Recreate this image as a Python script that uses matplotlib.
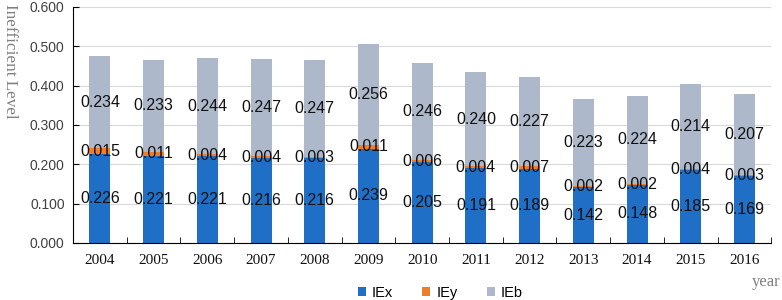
import numpy as np
import matplotlib.pyplot as plt

years = ['2004', '2005', '2006', '2007', '2008', '2009', '2010',
         '2011', '2012', '2013', '2014', '2015', '2016']
iex = [0.226, 0.221, 0.221, 0.216, 0.216, 0.239, 0.205, 0.191, 0.189, 0.142, 0.148, 0.185, 0.169]
iey = [0.015, 0.011, 0.004, 0.004, 0.003, 0.011, 0.006, 0.004, 0.007, 0.002, 0.002, 0.004, 0.003]
ieb = [0.234, 0.233, 0.244, 0.247, 0.247, 0.256, 0.246, 0.240, 0.227, 0.223, 0.224, 0.214, 0.207]

colors = ['#1F6FC6', '#F07D28', '#ADB9CA']
sans = 'Liberation Sans'
serif = 'Liberation Serif'

fig = plt.figure(figsize=(7.82, 3.0), dpi=100)
ax = fig.add_axes([0.0934, 0.19, 0.893, 0.787])

x = np.arange(len(years))
w = 0.39
bottom = np.zeros(len(years))
for vals, c, name in zip([iex, iey, ieb], colors, ['IEx', 'IEy', 'IEb']):
    vals = np.array(vals)
    ax.bar(x, vals, w, bottom=bottom, color=c, label=name, zorder=2)
    for xi, b, v in zip(x, bottom, vals):
        ax.text(xi, b + v / 2, f'{v:.3f}', ha='center', va='center',
                fontsize=11.5, family=sans, color='#111111', zorder=3)
    bottom = bottom + vals

ax.set_xlim(-0.5, len(years) - 0.5)
ax.set_ylim(0, 0.6)
ax.set_yticks(np.arange(0, 0.61, 0.1))
ax.set_yticklabels([f'{v:.3f}' for v in np.arange(0, 0.61, 0.1)],
                   family=sans, fontsize=10, color='#404040')
ax.set_xticks(x)
ax.set_xticklabels(years, family=serif, fontsize=11, color='#111111')
ax.set_xticks(np.arange(-0.5, len(years)), minor=True)
ax.tick_params(axis='x', which='major', length=0, pad=8)
ax.tick_params(axis='x', which='minor', length=4, direction='in', color='black')
ax.tick_params(axis='y', length=4, direction='in', color='black', pad=6)

ax.grid(axis='y', color='#D9D9D9', linewidth=0.8, zorder=0)
ax.set_axisbelow(True)
for s in ['top', 'right']:
    ax.spines[s].set_visible(False)
ax.spines['left'].set_color('black')
ax.spines['bottom'].set_color('black')

fig.text(0.003, 0.985, 'Inefficient Level', rotation=270, va='top', ha='left',
         family=serif, fontsize=12.3, color='#808080')
fig.text(0.998, 0.035, 'year', ha='right', va='bottom', family=serif,
         fontsize=12, color='#808080')

ax.legend(loc='center', bbox_to_anchor=(0.526, -0.21), ncol=3, frameon=False,
          prop={'family': sans, 'size': 10.5}, handlelength=0.55, handleheight=0.55,
          columnspacing=2.0, handletextpad=0.4)

fig.savefig('out.png', dpi=100)
